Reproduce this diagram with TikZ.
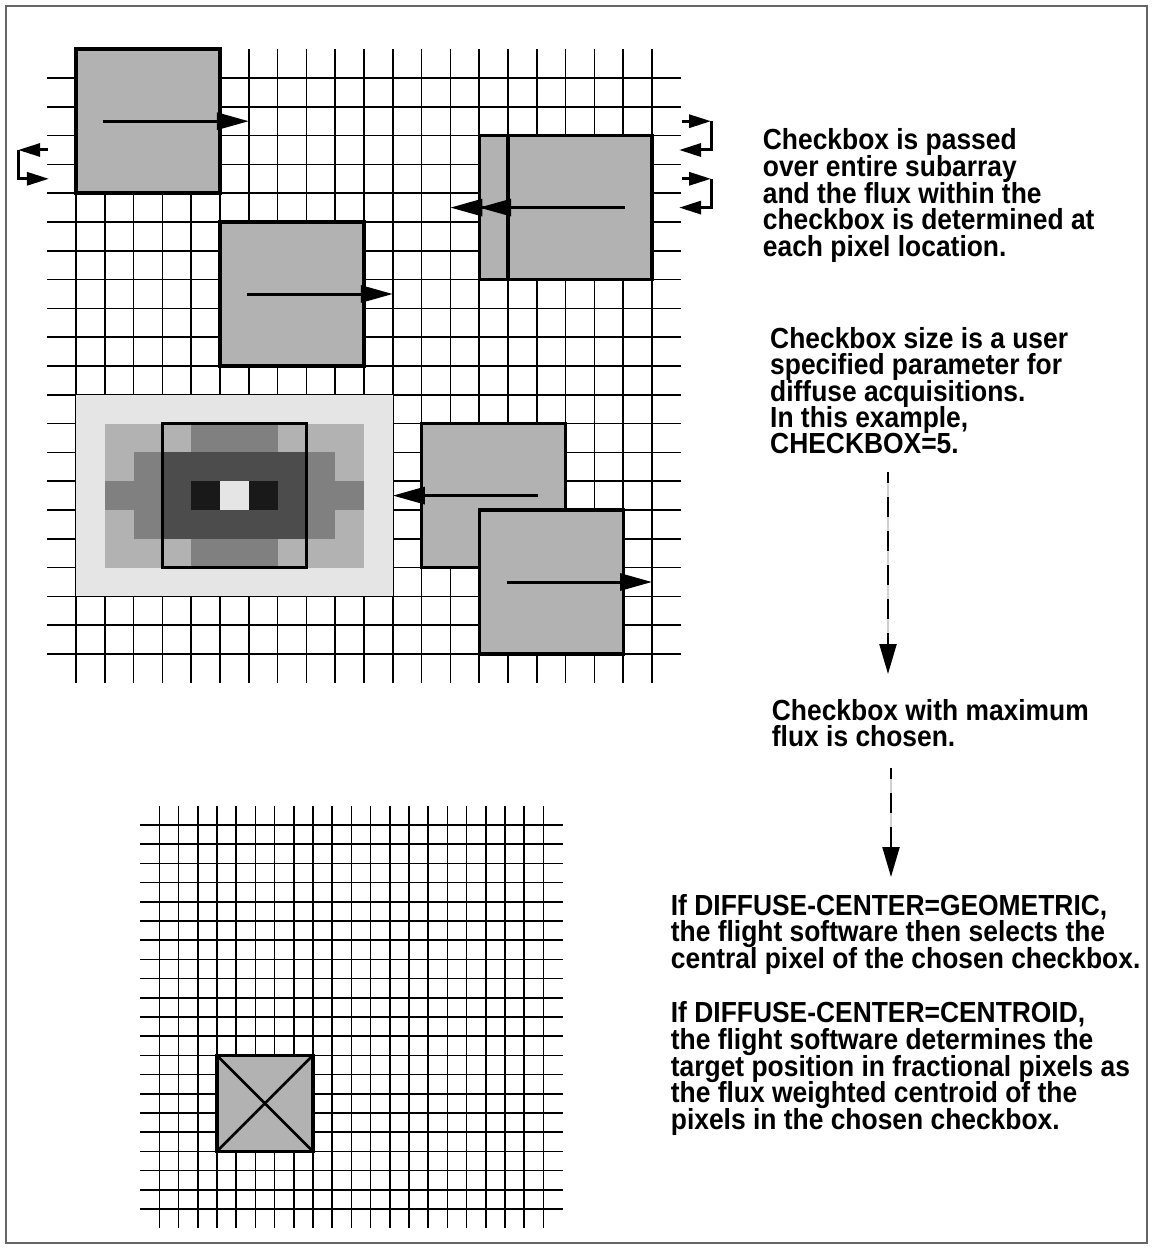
\documentclass[tikz,border=0pt]{standalone}
\usepackage{fontspec}
\setmainfont{Liberation Sans}
\usetikzlibrary{arrows.meta,calc}
\definecolor{boxgray}{gray}{0.7}
\definecolor{framegray}{gray}{0.4}
\newcommand{\tallt}[1]{\scalebox{1}[1.1]{#1}}
\tikzset{
  gl/.style={line width=1.6pt, draw=black},
  cbox/.style={line width=3.4pt, fill=boxgray, draw=black},
  bigarr/.style={line width=3pt, -{Triangle[length=32pt,width=17pt]}},
  smallarr/.style={line width=3pt, line join=miter, -{Triangle[length=22pt,width=13pt]}},
  txt/.style={anchor=base west, inner sep=0pt, font=\fontsize{26.4}{26.7}\selectfont\bfseries},
  dashbase/.style={line width=2.2pt, draw=black!18},
  dashline/.style={line width=2.2pt, dash pattern=on 20pt off 14pt, dash phase=9pt, -{Triangle[length=30pt,width=17pt]}},
}
\begin{document}
\begin{tikzpicture}[x=1pt,y=-1pt]
\useasboundingbox (0,0) rectangle (1153,1249);
\fill[white] (0,0) rectangle (1153,1249);
\draw[line width=1.8pt, draw=framegray] (6,6) rectangle (1147,1243);

% ---------- top subarray ----------
\begin{scope}[shift={(76,78)}, x=28.8pt, y=-28.8pt]
  \foreach \k in {0,...,20} {
    \draw[gl] (\k,-1) -- (\k,21);
    \draw[gl] (-1,\k) -- (21,\k);
  }
  % row-change loops
  \draw[smallarr] (-0.97,2.5) -- (-2.01,2.5);
  \draw[smallarr] (-2.01,2.5) -- (-2.01,3.5) -- (-0.94,3.5);
  \draw[smallarr] (21.04,1.5) -- (22.05,1.5);
  \draw[smallarr] (22.05,1.5) -- (22.05,2.5) -- (20.94,2.5);
  \draw[smallarr] (21.04,3.5) -- (22.05,3.5);
  \draw[smallarr] (22.05,3.5) -- (22.05,4.5) -- (20.94,4.5);
  % checkbox 1
  \draw[cbox] (0,-1) rectangle (5,4);
  \draw[bigarr] (0.95,1.5) -- (6,1.5);
  % checkbox 2
  \draw[cbox] (5,5) rectangle (10,10);
  \draw[bigarr] (5.95,7.5) -- (11,7.5);
  % checkbox 3 (two overlapping positions)
  \draw[cbox] (14,2) rectangle (19,7);
  \draw[bigarr] (18.05,4.5) -- (13,4.5);
  \draw[cbox] (15,2) rectangle (20,7);
  \draw[bigarr] (19.05,4.5) -- (14,4.5);
  % flux pattern
  \fill[white!90!black] (0,11) rectangle (11,18);
  \foreach \row [count=\r from 12] in {{7,7,7,5,5,5,7,7,7},{7,5,3,3,3,3,3,5,7},{5,5,3,1,9,1,3,5,5},{7,5,3,3,3,3,3,5,7},{7,7,7,5,5,5,7,7,7}} {
    \foreach \v [count=\c from 1] in \row {
      \fill[white!\v0!black] (\c,\r) rectangle ++(1,1);
    }
  }
  \draw[line width=3.4pt] (3,12) rectangle (8,17);
  % checkbox 5
  \draw[cbox] (12,12) rectangle (17,17);
  \draw[bigarr] (16.05,14.5) -- (11,14.5);
  % checkbox 6
  \draw[cbox] (14,15) rectangle (19,20);
  \draw[bigarr] (14.95,17.5) -- (20,17.5);
\end{scope}

% ---------- bottom subarray ----------
\begin{scope}[shift={(159.3,825)}, x=19.2pt, y=-19.2pt]
  \foreach \k in {0,...,20} {
    \draw[gl] (\k,-1) -- (\k,21);
    \draw[gl] (-1,\k) -- (21,\k);
  }
  \draw[line width=3.2pt, fill=boxgray] (3,12) rectangle (8,17);
  \draw[line width=2.6pt] (3,12) -- (8,17);
  \draw[line width=2.6pt] (3,17) -- (8,12);
\end{scope}

% ---------- texts ----------
\foreach \s [count=\n from 0] in {Checkbox is passed, over entire subarray, and the flux within the, checkbox is determined at, each pixel location.}
  \node[txt] (ta\n) at (762.7,{150+26.6*\n}) {\tallt{\s}};
\foreach \s [count=\n from 0] in {Checkbox size is a user, specified parameter for, diffuse acquisitions., {In this example,}, CHECKBOX=5.}
  \node[txt] (tb\n) at (770,{348.3+26.4*\n}) {\tallt{\s}};
\foreach \s [count=\n from 0] in {Checkbox with maximum, flux is chosen.}
  \node[txt] (tc\n) at (771.7,{720+26.7*\n}) {\tallt{\s}};
\foreach \s [count=\n from 0] in {{If DIFFUSE-CENTER=GEOMETRIC,}, the flight software then selects the, central pixel of the chosen checkbox.}
  \node[txt] (td\n) at (670.7,{915+26.7*\n}) {\tallt{\s}};
\foreach \s [count=\n from 0] in {{If DIFFUSE-CENTER=CENTROID,}, the flight software determines the, target position in fractional pixels as, the flux weighted centroid of the, pixels in the chosen checkbox.}
  \node[txt] (te\n) at (670.7,{1022.7+26.7*\n}) {\tallt{\s}};

% ---------- dashed flow arrows ----------
\coordinate (d1s) at (888,472);
\coordinate (d1e) at (888,674);
\coordinate (d2s) at (891,768);
\coordinate (d2e) at (891,877);
\draw[dashbase] (d1s) -- ($(d1e)+(0,-30)$);
\draw[dashline] (d1s) -- (d1e);
\draw[dashbase] (d2s) -- ($(d2e)+(0,-30)$);
\draw[dashline] (d2s) -- (d2e);
\end{tikzpicture}
\end{document}
